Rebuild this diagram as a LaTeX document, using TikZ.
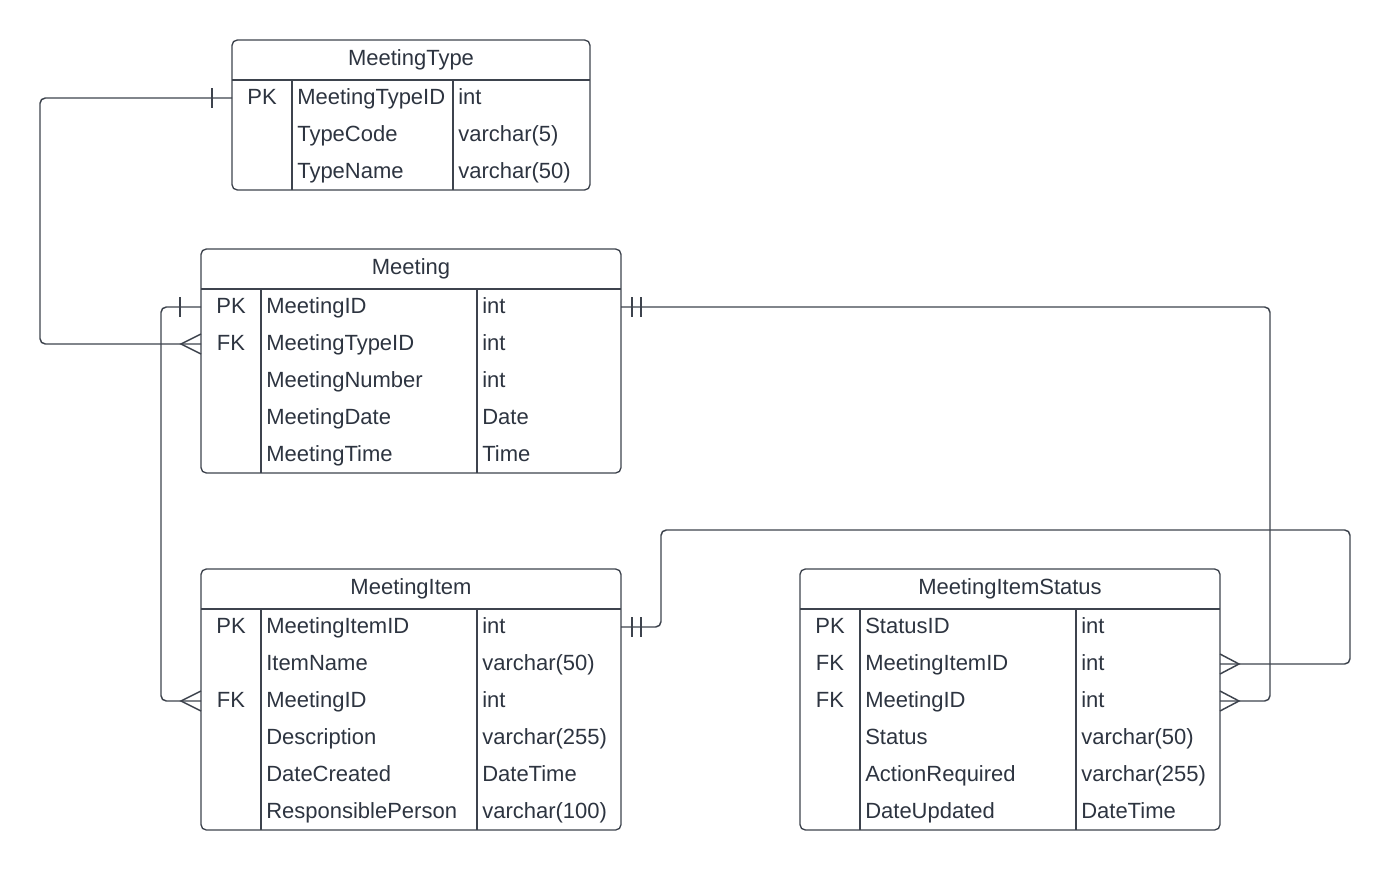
\documentclass[tikz,border=0pt]{standalone}
\usepackage{fontspec}
\setmainfont{Liberation Sans}
\usetikzlibrary{calc}
\definecolor{ink}{HTML}{3D434D}
\definecolor{txt}{HTML}{2D3440}

% #1 name, #2/#3 top-left, #4/#5 bottom-right, #6 key column edge,
% #7 type column edge, #8 title, #9 rows as key/field/type
\newcommand\ertable[9]{%
  \node[frame, minimum width={(#4-#2)*0.75pt}, minimum height={(#5-#3)*0.75pt}] (#1) at (#2,#3) {};
  \node[label text, anchor=base] (#1-title) at ({(#2+#4)/2},#3+25) {#8};
  \draw[grid] (#2,#3+40) -- (#4,#3+40);
  \draw[grid] (#6,#3+40) -- (#6,#5);
  \draw[grid] (#7,#3+40) -- (#7,#5);
  \foreach \k/\f/\t [count=\i] in {#9} {
    \pgfmathsetmacro\ry{#3+58+37*(\i-1)}
    \coordinate (#1-l\i) at (#2,\ry);
    \coordinate (#1-r\i) at (#4,\ry);
    \node[label text, anchor=base] (#1-k\i) at ({(#2+#6)/2},\ry+6) {\k};
    \node[label text, anchor=base west] (#1-f\i) at (#6+5,\ry+6) {\f};
    \node[label text, anchor=base west] (#1-t\i) at (#7+5,\ry+6) {\t};
  }%
}

\begin{document}
\begin{tikzpicture}[x=0.75pt,y=-0.75pt,
  frame/.style={draw=ink, line width=1pt, rounded corners=4pt, inner sep=0pt, outer sep=0pt, anchor=north west},
  grid/.style={draw=ink, line width=1pt},
  label text/.style={text=txt, font=\fontsize{16.5}{19}\selectfont, inner sep=0pt},
  link/.style={draw=ink, line width=1.1pt, rounded corners=4pt},
  bar/.style={draw=ink, line width=1.1pt},
  foot/.style={draw=ink, line width=1.1pt, line join=miter}]
\useasboundingbox (0,0) rectangle (1390,871);

\ertable{mt}{232}{40}{590}{190}{292}{453}{MeetingType}%
  {PK/MeetingTypeID/int, {}/TypeCode/varchar(5), {}/TypeName/varchar(50)}
\ertable{m}{201}{249}{621}{473}{261}{477}{Meeting}%
  {PK/MeetingID/int, FK/MeetingTypeID/int, {}/MeetingNumber/int, {}/MeetingDate/Date, {}/MeetingTime/Time}
\ertable{mi}{201}{569}{621}{830}{261}{477}{MeetingItem}%
  {PK/MeetingItemID/int, {}/ItemName/varchar(50), FK/MeetingID/int, {}/Description/varchar(255), {}/DateCreated/DateTime, {}/ResponsiblePerson/varchar(100)}
\ertable{mis}{800}{569}{1220}{830}{860}{1076}{MeetingItemStatus}%
  {PK/StatusID/int, FK/MeetingItemID/int, FK/MeetingID/int, {}/Status/varchar(50), {}/ActionRequired/varchar(255), {}/DateUpdated/DateTime}

% MeetingType (one) -- Meeting (many)
\draw[link] (mt-l1) -- ++(-192,0) |- (m-l2);
\draw[bar] ($(mt-l1)+(-20,-10)$) -- ++(0,20);
\draw[foot] ($(m-l2)+(0,-10)$) -- ($(m-l2)+(-20,0)$) -- ($(m-l2)+(0,10)$);

% Meeting (one) -- MeetingItem (many)
\draw[link] (m-l1) -- ++(-40,0) |- (mi-l3);
\draw[bar] ($(m-l1)+(-21,-10)$) -- ++(0,20);
\draw[foot] ($(mi-l3)+(0,-10)$) -- ($(mi-l3)+(-20,0)$) -- ($(mi-l3)+(0,10)$);

% Meeting (exactly one) -- MeetingItemStatus (many)
\draw[link] (m-r1) -- ++(649,0) |- (mis-r3);
\draw[bar] ($(m-r1)+(11,-10)$) -- ++(0,20);
\draw[bar] ($(m-r1)+(20,-10)$) -- ++(0,20);
\draw[foot] ($(mis-r3)+(0,-10)$) -- ($(mis-r3)+(19,0)$) -- ($(mis-r3)+(0,10)$);

% MeetingItem (exactly one) -- MeetingItemStatus (many)
\draw[link] (mi-r1) -- ++(40,0) -- ++(0,-97) -- ++(689,0) |- (mis-r2);
\draw[bar] ($(mi-r1)+(11,-10)$) -- ++(0,20);
\draw[bar] ($(mi-r1)+(20,-10)$) -- ++(0,20);
\draw[foot] ($(mis-r2)+(0,-10)$) -- ($(mis-r2)+(19,0)$) -- ($(mis-r2)+(0,10)$);
\end{tikzpicture}
\end{document}
